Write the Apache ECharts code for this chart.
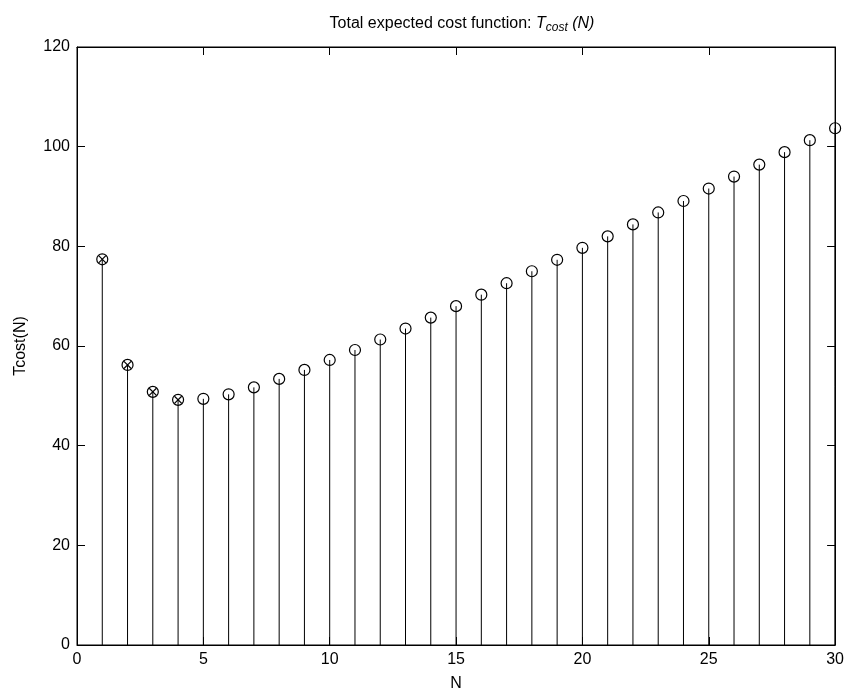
<!DOCTYPE html>
<html>
<head>
<meta charset="utf-8">
<script src="https://cdn.jsdelivr.net/npm/echarts@6/dist/echarts.min.js"></script>
<style>html,body{margin:0;padding:0;background:#fff}#c{width:847px;height:697px}</style>
</head>
<body>
<div id="c"></div>
<script>
var nValues = [1,2,3,4,5,6,7,8,9,10,11,12,13,14,15,16,17,18,19,20,21,22,23,24,25,26,27,28,29,30];
var tcost = [77.4,56.2,50.8,49.2,49.4,50.3,51.7,53.4,55.2,57.2,59.2,61.3,63.5,65.7,68.0,70.3,72.6,75.0,77.3,79.7,82.0,84.4,86.8,89.1,91.6,94.0,96.4,98.9,101.3,103.7];
var crossedN = [1,2,3,4];
var xTicks = [0,5,10,15,20,25,30];
var yTicks = [0,20,40,60,80,100,120];

var chart = echarts.init(document.getElementById('c'));
var font = '"Liberation Sans", Arial, Helvetica, sans-serif';
var stemData = nValues.map(function(n,i){ return [n, tcost[i], crossedN.indexOf(n) >= 0 ? 1 : 0]; });

function axisBase(){
  return {
    type: 'value',
    splitLine: {show: false},
    axisLine: {show: true, onZero: false, lineStyle: {color: '#000', width: 1}},
    axisTick: {show: true, inside: true, length: 8, lineStyle: {color: '#000', width: 1}}
  };
}

chart.setOption({
  animation: false,
  backgroundColor: '#fff',
  title: {
    text: '{n|Total expected cost function: }{t|T}{s|cost}{t| (N)}',
    left: 457, top: 8, textAlign: 'center',
    textStyle: {
      fontWeight: 'normal',
      rich: {
        n: {fontFamily: font, fontSize: 16, fontWeight: 'normal', color: '#000'},
        t: {fontFamily: font, fontSize: 16, fontWeight: 'normal', fontStyle: 'italic', color: '#000'},
        s: {fontFamily: font, fontSize: 12, fontWeight: 'normal', fontStyle: 'italic', color: '#000', verticalAlign: 'bottom', padding: [9,0,0,0]}
      }
    }
  },
  grid: {left: 77, right: 11, top: 47, bottom: 49, show: true, borderColor: '#000', borderWidth: 1},
  xAxis: [
    Object.assign(axisBase(), {min: xTicks[0], max: xTicks[xTicks.length-1], interval: 5, position: 'bottom',
      name: 'N', nameLocation: 'middle', nameGap: 31,
      nameTextStyle: {fontFamily: font, fontSize: 16, color: '#000'},
      axisLabel: {fontFamily: font, fontSize: 16, color: '#000', margin: 7}}),
    Object.assign(axisBase(), {min: xTicks[0], max: xTicks[xTicks.length-1], interval: 5, position: 'top',
      axisLabel: {show: false}})
  ],
  yAxis: [
    Object.assign(axisBase(), {min: yTicks[0], max: yTicks[yTicks.length-1], interval: 20, position: 'left',
      name: 'Tcost(N)', nameLocation: 'middle', nameGap: 48, nameRotate: 90,
      nameTextStyle: {fontFamily: font, fontSize: 16, color: '#000'},
      axisLabel: {fontFamily: font, fontSize: 16, color: '#000', margin: 7}}),
    Object.assign(axisBase(), {min: yTicks[0], max: yTicks[yTicks.length-1], interval: 20, position: 'right',
      axisLabel: {show: false}})
  ],
  series: [{
    type: 'custom',
    xAxisIndex: 0, yAxisIndex: 0,
    data: stemData,
    encode: {x: 0, y: 1},
    renderItem: function(params, api){
      var top = api.coord([api.value(0), api.value(1)]);
      var base = api.coord([api.value(0), 0]);
      var r = 5.5;
      var children = [
        {type: 'line', shape: {x1: base[0], y1: base[1], x2: top[0], y2: top[1]}, style: {stroke: '#000', lineWidth: 1}},
        {type: 'circle', shape: {cx: top[0], cy: top[1], r: r}, style: {fill: 'none', stroke: '#000', lineWidth: 1.2}}
      ];
      if (api.value(2) === 1) {
        var d = 3.6;
        children.push({type: 'line', shape: {x1: top[0]-d, y1: top[1]-d, x2: top[0]+d, y2: top[1]+d}, style: {stroke: '#000', lineWidth: 1.2}});
        children.push({type: 'line', shape: {x1: top[0]-d, y1: top[1]+d, x2: top[0]+d, y2: top[1]-d}, style: {stroke: '#000', lineWidth: 1.2}});
      }
      return {type: 'group', children: children};
    }
  }]
});
</script>
</body>
</html>
